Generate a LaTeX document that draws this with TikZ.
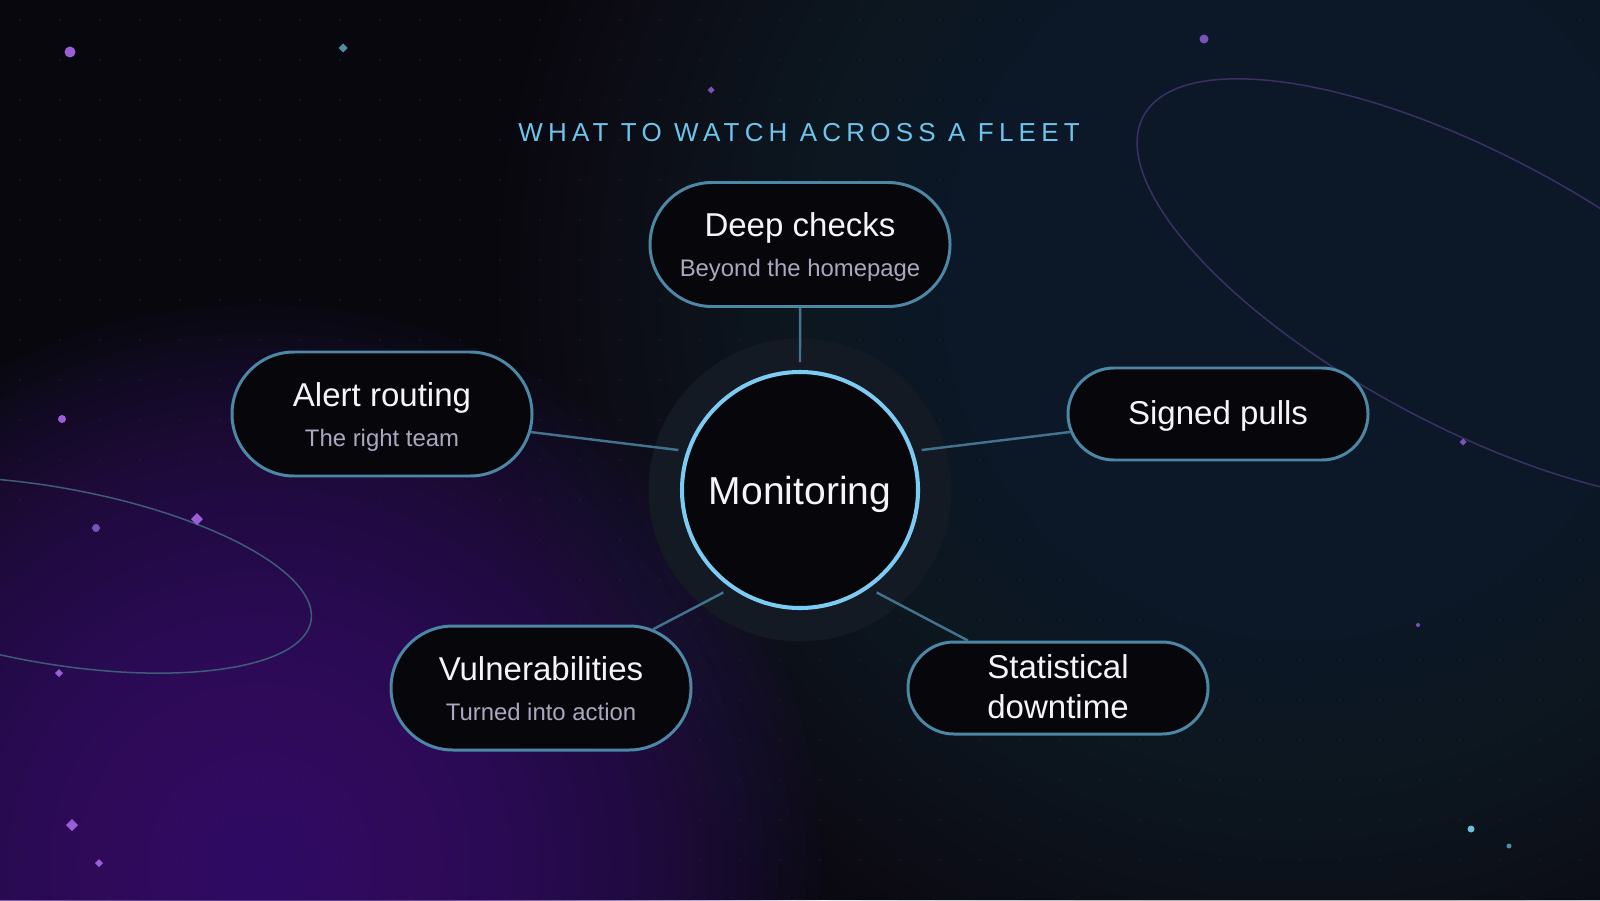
\documentclass[tikz,border=0pt]{standalone}
\usepackage{fontspec}
\setmainfont{Liberation Sans}
\newfontfamily\spacedfont[LetterSpace=20]{Liberation Sans}
\usetikzlibrary{shapes.misc}

\definecolor{bgdark}{HTML}{08070D}
\definecolor{glownavy}{HTML}{1F2A3A}
\definecolor{glowpurple}{HTML}{421D7A}
\definecolor{griddot}{HTML}{1B1A25}
\definecolor{orbitpurple}{HTML}{3A3163}
\definecolor{orbitblue}{HTML}{3D5C79}
\definecolor{halofill}{HTML}{131A24}
\definecolor{pillfill}{HTML}{07060B}
\definecolor{pillline}{HTML}{4C87A5}
\definecolor{wireblue}{HTML}{42728E}
\definecolor{hubline}{HTML}{7CCBF2}
\definecolor{headblue}{HTML}{6DC4EC}
\definecolor{titlewhite}{HTML}{F5F5F8}
\definecolor{subgrey}{HTML}{ABA7BE}
\definecolor{sparkP}{HTML}{9A5FD6}
\definecolor{sparkPd}{HTML}{7B52B5}
\definecolor{sparkB}{HTML}{6CBDE0}
\definecolor{sparkBd}{HTML}{4C8EA6}

\newcommand\subline[1]{{\fontsize{6.8}{8}\selectfont\color{subgrey}#1}}

\begin{document}
\begin{tikzpicture}[
    pill/.style={rounded rectangle, draw=pillline, line width=0.85pt, fill=pillfill,
      minimum width=3cm, minimum height=1.24cm, inner sep=0pt, text=titlewhite,
      align=center, font=\fontsize{9.4}{11.4}\selectfont, text height=19.9pt, text depth=1.5pt},
    slim/.style={pill, minimum height=0.92cm, text height=7.2pt, text depth=1pt},
    hub/.style={circle, draw=hubline, line width=1.15pt, fill=pillfill,
      minimum size=2.36cm, inner sep=0pt, text=titlewhite, font=\fontsize{11.1}{13}\selectfont,
      text height=9.6pt, text depth=1.4pt},
    wire/.style={draw=wireblue, line width=0.7pt},
    haze/.style={fill=#1, opacity=0.05},
    orbit/.style={line width=0.43pt}]
  \useasboundingbox (0,0) rectangle (16,9);
  \clip (0,0) rectangle (16,9);
  % backdrop
  \fill[bgdark] (0,0) rectangle (16,9);
  \foreach \k in {1,...,40} {
    \fill[haze=glownavy] (13.0,6.2) circle (0.2*\k);
    \fill[haze=glowpurple] (2.6,0.35) circle (0.14*\k);
  }
  \foreach \i in {0,...,39}
    \foreach \j in {0,...,21}
      \fill[griddot] (0.2+0.4*\i,8.8-0.4*\j) circle (0.012);
  \draw[orbit, orbitblue, rotate around={-10:(0.5,3.25)}] (0.5,3.25) ellipse (2.65 and 0.88);
  \draw[orbit, orbitpurple, rotate around={-28:(14.7,6.1)}] (14.7,6.1) ellipse (3.7 and 1.36);
  \foreach \x/\y/\r/\c in {0.70/8.48/0.055/sparkP, 12.04/8.61/0.045/sparkPd, 0.62/4.81/0.04/sparkP,
      0.96/3.72/0.04/sparkPd, 14.18/2.75/0.02/sparkPd, 14.71/0.71/0.035/sparkB, 15.09/0.54/0.025/sparkBd}
    \fill[\c] (\x,\y) circle (\r);
  \foreach \x/\y/\s/\c in {3.43/8.52/0.045/sparkBd, 7.11/8.10/0.035/sparkPd, 1.97/3.81/0.06/sparkP,
      0.59/2.27/0.04/sparkP, 14.63/4.58/0.035/sparkPd, 0.72/0.75/0.06/sparkP, 0.99/0.37/0.04/sparkP}
    \fill[\c] (\x,\y) ++(-\s,0) -- ++(\s,\s) -- ++(\s,-\s) -- ++(-\s,-\s) -- cycle;

  \node[text=headblue, font=\spacedfont\fontsize{7.4}{9}\selectfont] (head) at (7.99,7.67) {WHAT TO WATCH ACROSS A FLEET};

  \fill[halofill] (8,4.1) circle (1.515);
  \node[hub] (hub) at (8,4.1) {Monitoring};
  \path (hub.center) ++(90:1.28) coordinate (tipN);
  \path (hub.center) ++(161.8:1.28) coordinate (tipW);
  \path (hub.center) ++(18.2:1.28) coordinate (tipE);
  \path (hub.center) ++(233.2:1.28) coordinate (tipSW);
  \path (hub.center) ++(306.8:1.28) coordinate (tipSE);

  \node[pill] (deep) at (8,6.555) {Deep checks\\\subline{Beyond the homepage}};
  \node[pill] (alert) at (3.82,4.86) {Alert routing\\\subline{The right team}};
  \node[slim] (signed) at (12.18,4.86) {Signed pulls};
  \node[slim, text height=18.6pt] (stat) at (10.58,2.12) {Statistical\\downtime};
  \node[pill] (vuln) at (5.41,2.12) {Vulnerabilities\\\subline{Turned into action}};

  \draw[wire] (deep) -- (tipN);
  \draw[wire] (alert) -- (tipW);
  \draw[wire] (signed) -- (tipE);
  \draw[wire] (vuln) -- (tipSW);
  \draw[wire] (stat) -- (tipSE);
\end{tikzpicture}
\end{document}
